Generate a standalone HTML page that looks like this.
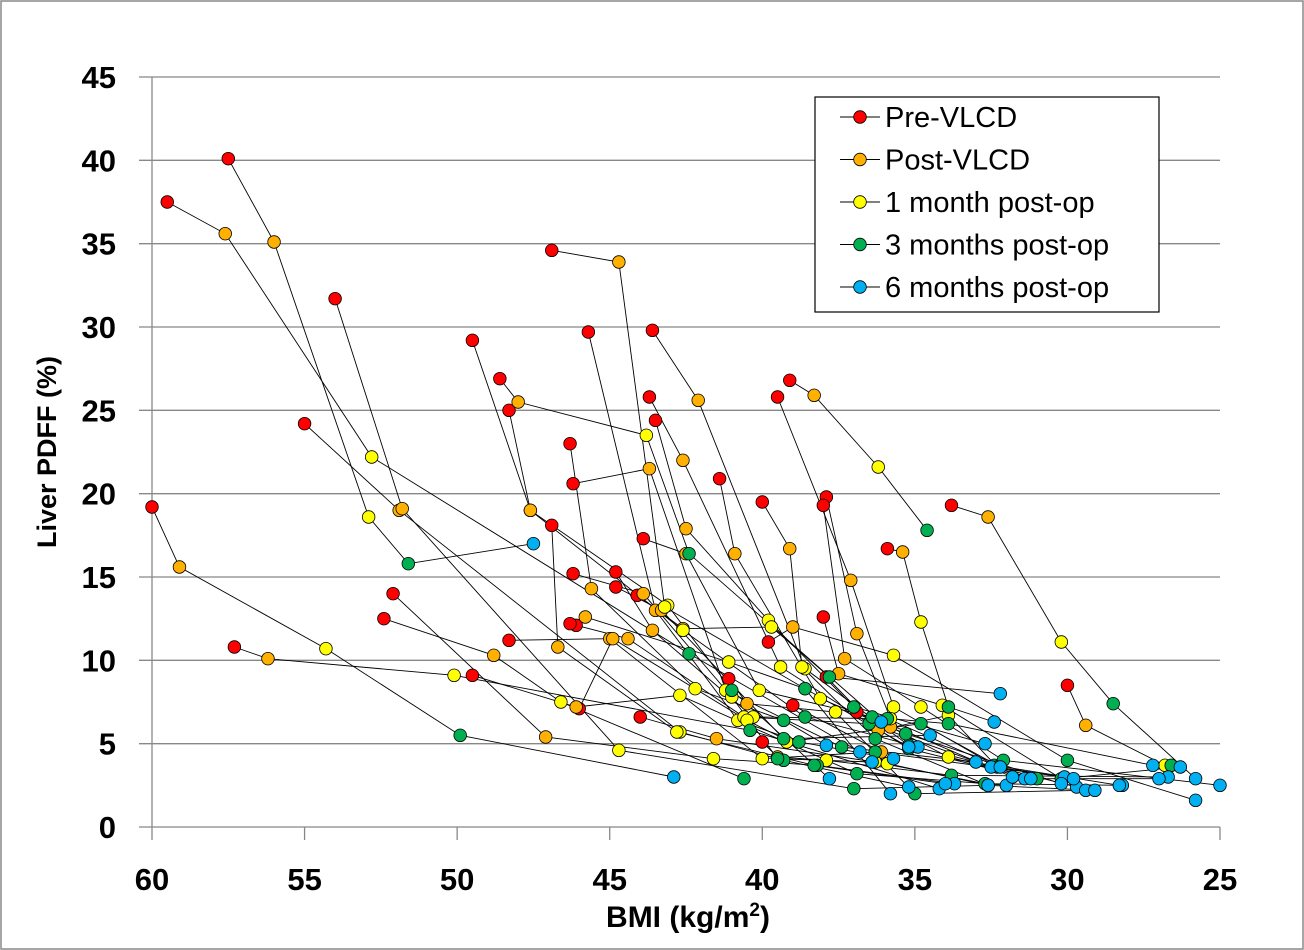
<!DOCTYPE html>
<html><head><meta charset="utf-8">
<style>
html,body{margin:0;padding:0;background:#fff;}
#wrap{position:relative;width:1304px;height:950px;overflow:hidden;}
svg{position:absolute;left:0;top:0;font-family:"Liberation Sans",sans-serif;}
</style></head>
<body>
<div id="wrap">
<svg id="chart" width="1304" height="950">
  <rect x="1" y="1" width="1302" height="948" fill="#fff" stroke="#888" stroke-width="1.5"/>
  <g id="grid"></g>
  <g id="axes"></g>
  <g id="lines"></g>
  <g id="points"></g>
  <text x="56" y="452" transform="rotate(-90 56 452)" text-anchor="middle" font-size="27" font-weight="bold">Liver PDFF (%)</text>
  <text x="688" y="927" text-anchor="middle" font-size="30" font-weight="bold">BMI (kg/m<tspan font-size="19" dy="-11">2</tspan><tspan dy="11">)</tspan></text>
  <g id="legend">
    <rect x="815" y="97" width="344" height="215" fill="#fff" stroke="#000" stroke-width="1.2"/>
  </g>
</svg>
</div>
<script>
const yTicks = [0,5,10,15,20,25,30,35,40,45];
const xTicks = [60,55,50,45,40,35,30,25];
const stageNames = ["Pre-VLCD","Post-VLCD","1 month post-op","3 months post-op","6 months post-op"];
const stageColors = ["#ff0000","#ffb000","#ffff00","#00b050","#00b0f0"];
// each patient: [pre, post, 1m, 3m, 6m] as [BMI, PDFF]
const patients = [
[[60,19.2],[59.1,15.6],[54.3,10.7],[49.9,5.5],[42.9,3.0]],
[[59.5,37.5],[57.6,35.6],[52.8,22.2],[42.4,10.4],[36.8,4.5]],
[[57.5,40.1],[56.0,35.1],[52.9,18.6],[51.6,15.8],[47.5,17.0]],
[[57.3,10.8],[56.2,10.1],[50.1,9.1],[40.4,5.8],[34.2,2.3]],
[[55.0,24.2],[51.9,19.0],[42.7,5.7],[39.3,4.0],[35.2,2.4]],
[[54.0,31.7],[51.8,19.1],[44.7,4.6],[37.0,2.3],[32.6,2.5]],
[[52.4,12.5],[48.8,10.3],[46.6,7.5],[40.6,2.9],null],
[[52.1,14.0],[47.1,5.4],[41.6,4.1],[38.2,3.7],[33.7,2.6]],
[[49.5,29.2],[47.6,19.0],[43.1,13.3],[41.0,8.2],[37.8,2.9]],
[[49.5,9.1],[46.1,7.2],[42.7,7.9],[36.9,3.2],[32.0,2.5]],
[[48.6,26.9],[48.0,25.5],[43.8,23.5],[42.4,16.4],[36.1,6.3]],
[[48.3,25.0],[47.6,19.0],[42.6,11.8],[38.6,6.6],[34.9,4.8]],
[[48.3,11.2],[45.0,11.3],[40.0,4.1],[36.3,4.5],[30.1,3.0]],
[[46.9,34.6],[44.7,33.9],[43.2,13.2],[38.6,8.3],[35.8,2.0]],
[[46.9,18.1],[46.7,10.8],[42.8,5.7],[38.3,3.7],[34.0,2.6]],
[[46.3,23.0],[45.6,14.3],[42.2,8.3],[39.3,6.4],[37.9,4.9]],
[[46.2,20.6],[43.7,21.5],[41.2,8.2],[37.4,4.8],[33.0,3.9]],
[[45.7,29.7],[43.5,13.0],[40.8,6.4],[38.8,5.1],[35.7,4.1]],
[[46.2,15.2],[43.9,14.0],[41.0,7.8],[39.5,4.1],[36.4,3.9]],
[[46.1,12.1],[44.4,11.3],[40.6,6.6],[36.5,6.2],[32.5,3.6]],
[[44.8,15.3],[43.6,11.8],[40.3,6.6],[35.9,6.5],[31.4,2.9]],
[[44.8,14.4],[43.3,13.0],[39.2,5.1],[34.8,6.2],[32.2,3.6]],
[[44.0,6.6],[41.5,5.3],[36.3,3.9],[32.7,2.6],[28.2,2.5]],
[[43.9,17.3],[42.5,16.4],[40.1,8.2],[36.4,6.6],[31.8,3.0]],
[[43.7,25.8],[42.6,22.0],[39.4,9.6],[35.2,4.7],[31.2,2.9]],
[[43.6,29.8],[42.1,25.6],[38.6,9.5],[35.2,4.9],[29.7,2.4]],
[[43.5,24.4],[42.5,17.9],[39.8,12.4],[37.0,7.2],[32.7,5.0]],
[[41.4,20.9],[40.9,16.4],[38.1,7.7],[35.3,5.6],[30.2,2.6]],
[[41.1,8.9],[40.5,7.4],[37.6,6.9],[35.0,2.0],[29.4,2.2]],
[[40.0,19.5],[39.1,16.7],[38.7,9.6],[36.3,5.3],[32.6,2.5]],
[[40.0,5.1],[39.5,4.2],[37.9,4.0],[33.8,3.1],[26.7,3.0]],
[[39.8,11.1],[39.0,12.0],[35.7,10.3],[30.0,4.0],[25.8,1.6]],
[[39.5,25.8],[37.1,14.8],[35.7,7.2],[32.4,3.7],[28.3,2.5]],
[[39.1,26.8],[38.3,25.9],[36.2,21.6],[34.6,17.8],null],
[[39.0,7.3],[36.1,4.5],[35.9,3.8],[32.6,2.5],[29.1,2.2]],
[[38.0,12.6],[37.5,9.2],[34.1,7.3],[30.2,2.9],[26.3,3.6]],
[[37.9,19.8],[36.9,11.6],[35.8,6.5],[33.9,6.2],[27.2,3.7]],
[[38.0,19.3],[37.3,10.1],[34.8,7.2],[32.1,4.0],[25.0,2.5]],
[[37.9,9.0],[36.2,5.8],[33.9,6.7],[32.3,3.6],[29.8,2.9]],
[[36.9,6.9],[35.8,6.0],[33.9,4.2],[31.0,2.9],[27.0,2.9]],
[[35.9,16.7],[35.4,16.5],[34.8,12.3],[33.9,7.2],[32.4,6.3]],
[[33.8,19.3],[32.6,18.6],[30.2,11.1],[28.5,7.4],[25.8,2.9]],
[[30.0,8.5],[29.4,6.1],[26.8,3.7],[26.6,3.7],null],
[[46.0,7.1],[44.9,11.3],[40.5,6.4],[39.3,5.3],[34.5,5.5]],
[[44.1,13.9],[42.6,11.9],[39.7,12.0],[37.8,9.0],[32.2,8.0]],
[[46.3,12.2],[45.8,12.6],[41.1,9.9],[38.6,8.3],[35.2,4.8]]
];

const NS="http://www.w3.org/2000/svg";
const L=152,R=1220,T=77,B=827;
function xs(v){return L+(60-v)/(60-25)*(R-L);}
function ys(v){return B-v/45*(B-T);}
function mk(tag,attrs,parent){const e=document.createElementNS(NS,tag);for(const k in attrs)e.setAttribute(k,attrs[k]);parent.appendChild(e);return e;}

const grid=document.getElementById('grid'),axes=document.getElementById('axes');
yTicks.forEach(t=>{
  if(t>0){
    const g=mk('line',{x1:139,x2:R,y1:ys(t),y2:ys(t),stroke:'#888','stroke-width':1.3},grid);
    
    
  }
  const tx=mk('text',{x:116,y:ys(t)+11,'text-anchor':'end','font-size':31,'font-weight':'bold'},axes);
  tx.textContent=t;
  
  
});
const ya=mk('line',{x1:L,x2:L,y1:T,y2:B,stroke:'#888','stroke-width':1.3},axes);


const xa=mk('line',{x1:139,x2:R,y1:B,y2:B,stroke:'#888','stroke-width':1.3},axes);


xTicks.forEach(t=>{
  const tk=mk('line',{x1:xs(t),x2:xs(t),y1:B,y2:B+13,stroke:'#888','stroke-width':1.3},axes);
  
  
  const tx=mk('text',{x:xs(t),y:B+63,'text-anchor':'middle','font-size':31,'font-weight':'bold'},axes);
  tx.textContent=t;
  
  
});

const lines=document.getElementById('lines'),pts=document.getElementById('points');
patients.forEach((p,i)=>{
  const valid=p.filter(q=>q);
  const pl=mk('polyline',{points:valid.map(q=>xs(q[0])+','+ys(q[1])).join(' '),fill:'none',stroke:'#000','stroke-width':0.9},lines);
  
  
});
for(let s=0;s<5;s++){
  patients.forEach((p,i)=>{
    const q=p[s]; if(!q) return;
    const c=mk('circle',{cx:xs(q[0]),cy:ys(q[1]),r:6.3,fill:stageColors[s],stroke:'#000','stroke-width':0.8},pts);
    
    
  });
}
const lg=document.getElementById('legend');
stageNames.forEach((n,i)=>{
  const y=117+i*42.5;
  const ln=mk('line',{x1:840,x2:880,y1:y,y2:y,stroke:'#000','stroke-width':1},lg);
  
  
  const c=mk('circle',{cx:860,cy:y,r:6.3,fill:stageColors[i],stroke:'#000','stroke-width':0.8},lg);
  
  
  const t=mk('text',{x:885,y:y+10,'font-size':29},lg);
  t.textContent=n;
  
  
});
</script>
</body></html>
